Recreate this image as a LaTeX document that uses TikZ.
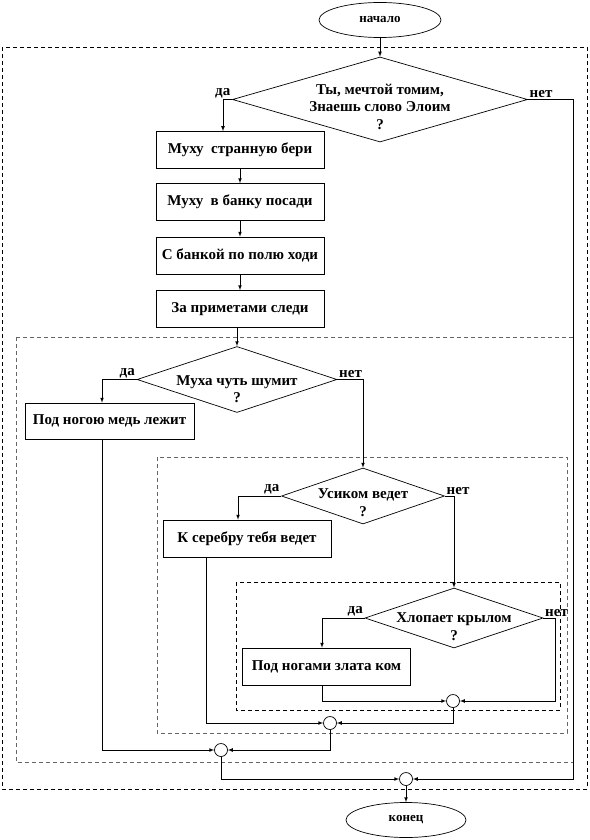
\documentclass[tikz,border=0pt]{standalone}
\usepackage{fontspec}
\setmainfont{Liberation Serif}
\usetikzlibrary{shapes.geometric}

\tikzset{
    block/.style={draw, rectangle, minimum width=168pt, minimum height=37pt, inner sep=2pt,
        font=\fontsize{15}{18}\selectfont\bfseries},
    decision/.style={draw, diamond, inner sep=0pt},
    dtext/.style={align=center, inner sep=0pt, font=\fontsize{15}{17.5}\selectfont\bfseries},
    term/.style={draw, ellipse, minimum width=122pt, minimum height=35pt,
        font=\fontsize{13}{15}\selectfont\bfseries},
    joint/.style={draw, circle, minimum size=13pt, inner sep=0pt},
    answer/.style={inner sep=1.5pt, font=\fontsize{15}{17}\selectfont\bfseries},
    frame/.style={dash pattern=on 4pt off 3pt},
}

\begin{document}
\begin{tikzpicture}[x=1pt,y=-1pt,line width=0.7pt,>=latex]
    \useasboundingbox (0,0) rectangle (589,840);

    % Frames
    \draw[frame] (2,47) rectangle (587,789);
    \draw[frame, black!60, line width=0.9pt] (16,337) rectangle (573,762);
    \draw[frame, black!60, line width=0.9pt] (157,457) rectangle (567,733);
    \draw[frame] (236,582) rectangle (560,710);

    % Start and first question
    \node[term] (start) at (380,20) {начало};
    \node[decision, minimum width=295pt, minimum height=85pt] (d1) at (380,99.5) {};
    \node[dtext] (d1t) at ([yshift=-7pt]d1.center) {Ты, мечтой томим,\\Знаешь слово Элоим\\?};
    \node[answer, anchor=south east] (d1yes) at (d1.west) {да};
    \node[answer, anchor=south west] (d1no) at (d1.east) {нет};

    % Steps
    \node[block] (b1) at (240,150) {Муху\ \ странную бери};
    \node[block] (b2) at (240,202) {Муху\ \ в банку посади};
    \node[block] (b3) at (240,255.5) {С банкой по полю ходи};
    \node[block] (b4) at (240,309) {За приметами следи};

    % Second question
    \node[decision, minimum width=200pt, minimum height=66pt] (d2) at (237,379.5) {};
    \node[dtext] (d2t) at ([yshift=-9.5pt]d2.center) {Муха чуть шумит\\?};
    \node[answer, anchor=south east] (d2yes) at (d2.west) {да};
    \node[answer, anchor=south west] (d2no) at (d2.east) {нет};
    \node[block, minimum width=169pt, minimum height=36pt] (b5) at (109.5,421) {Под ногою медь лежит};

    % Third question
    \node[decision, minimum width=163pt, minimum height=56pt] (d3) at (363,496) {};
    \node[dtext] (d3t) at ([yshift=-6.5pt]d3.center) {Усиком ведет\\?};
    \node[answer, anchor=south east] (d3yes) at (d3.west) {да};
    \node[answer, anchor=south west] (d3no) at (d3.east) {нет};
    \node[block] (b6) at (247,538.5) {К серебру тебя ведет};

    % Fourth question
    \node[decision, minimum width=178pt, minimum height=60pt] (d4) at (454,618) {};
    \node[dtext] (d4t) at ([yshift=-8.5pt]d4.center) {Хлопает крылом\\?};
    \node[answer, anchor=south east] (d4yes) at (d4.west) {да};
    \node[answer, anchor=south west] (d4no) at (d4.east) {нет};
    \node[block] (b7) at (326.5,666.5) {Под ногами злата ком};

    % Joints and end
    \node[joint] (c4) at (453,701) {};
    \node[joint] (c3) at (330,723) {};
    \node[joint] (c2) at (221,750) {};
    \node[joint] (c1) at (406,779) {};
    \node[term, minimum width=120pt] (end) at (406,820) {конец};

    % Arrows
    \draw[->] (start) -- (d1);
    \draw[->] (d1.west) -| ([xshift=-17pt]b1.north);
    \draw[->] (b1) -- (b2);
    \draw[->] (b2) -- (b3);
    \draw[->] (b3) -- (b4);
    \draw[->] (b4.south -| d2.north) -- (d2.north);
    \draw[->] (d2.west) -| ([xshift=-7.5pt]b5.north);
    \draw[->] (d2.east) -| (d3.north);
    \draw[->] (d3.west) -| ([xshift=-9pt]b6.north);
    \draw[->] (d3.east) -| (d4.north);
    \draw[->] (d4.west) -| ([xshift=-4.5pt]b7.north);
    \draw[->] ([xshift=-4.5pt]b7.south) |- (c4);
    \draw[->] (d4.east) -- ++(12,0) |- (c4);
    \draw[->] (c4) |- (c3);
    \draw[->] ([xshift=-41pt]b6.south) |- (c3);
    \draw[->] (c3) |- (c2);
    \draw[->] ([xshift=-7.5pt]b5.south) |- (c2);
    \draw[->] (c2) |- (c1);
    \draw[->] (d1.east) -- ++(45,0) |- (c1);
    \draw[->] (c1) -- (end);
\end{tikzpicture}
\end{document}
